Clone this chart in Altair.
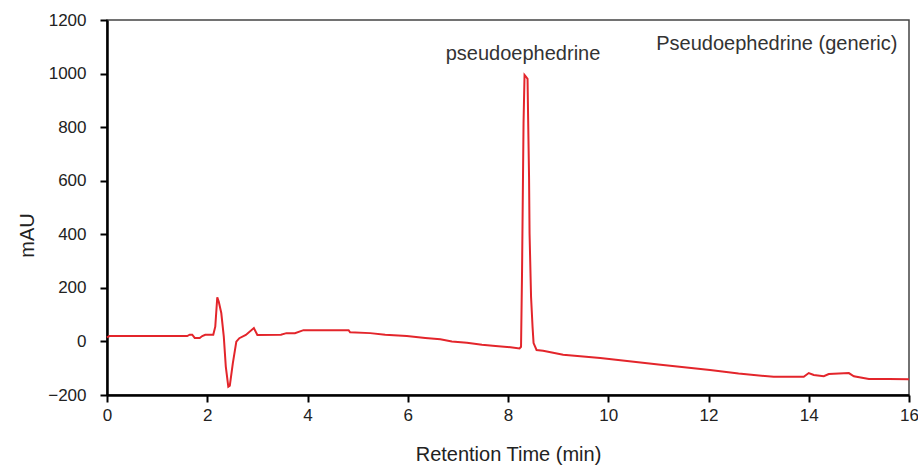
import altair as alt
import pandas as pd

# Retention time (min) and absorbance (mAU)
time_min = [0.0, 0.05, 1.6, 1.65, 1.7, 1.75, 1.85, 1.9, 1.96, 2.12, 2.16, 2.2, 2.23, 2.28,
            2.33, 2.37, 2.42, 2.45, 2.51, 2.58, 2.64, 2.77, 2.93, 3.0, 3.47, 3.58, 3.75,
            3.92, 4.82, 4.85, 5.25, 5.55, 5.98, 6.35, 6.65, 6.88, 7.18, 7.48, 7.75, 8.05,
            8.23, 8.26, 8.28, 8.31, 8.33, 8.36, 8.39, 8.40, 8.42, 8.43, 8.46, 8.49, 8.51,
            8.57, 8.7, 9.1, 9.84, 11.0, 12.03, 12.6, 13.3, 13.9, 14.0, 14.1, 14.3, 14.4,
            14.8, 14.9, 15.2, 15.6, 16.0]
mau = [15, 20, 20, 25, 25, 13, 13, 20, 25, 25, 55, 165, 148, 106,
       18, -94, -169, -165, -82, -1, 12, 24, 50, 24, 25, 31, 31,
       42, 42, 34, 31, 25, 20, 13, 8, 0, -5, -12, -17, -22,
       -26, -20, 255, 815, 995, 988, 980, 852, 613, 404, 166, 54, -6,
       -32, -35, -50, -62, -86, -107, -120, -132, -132, -118, -125, -130, -122,
       -118, -130, -140, -140, -141]

ann_text = ["pseudoephedrine", "Pseudoephedrine (generic)"]
ann_x = [8.3, 15.77]
ann_y = [1050, 1087]
ann_align = ["center", "right"]

x_ticks = [0, 2, 4, 6, 8, 10, 12, 14, 16]
y_ticks = [-200, 0, 200, 400, 600, 800, 1000, 1200]

FONT = "Liberation Sans"

df = pd.DataFrame({"t": time_min, "v": mau})
ann = pd.DataFrame({"label": ann_text, "t": ann_x, "v": ann_y, "align": ann_align})

x = alt.X("t:Q", scale=alt.Scale(domain=[0, 16], nice=False),
          axis=alt.Axis(values=x_ticks, format="d", title="Retention Time (min)",
                        titleY=65, titleBaseline="alphabetic", labelFlush=False))
y = alt.Y("v:Q", scale=alt.Scale(domain=[-200, 1200], nice=False),
          axis=alt.Axis(values=y_ticks, format="d", title="mAU",
                        titleX=-74, titleY=215, titleBaseline="alphabetic",
                        titleAlign="center", labelFlush=False))

line = alt.Chart(df).mark_line(color="#e3252b", strokeWidth=2).encode(x=x, y=y)

txt1 = alt.Chart(ann[ann["align"] == "center"]).mark_text(
    align="center", baseline="alphabetic", font=FONT, fontSize=20, color="#333333"
).encode(x="t:Q", y="v:Q", text="label:N")
txt2 = alt.Chart(ann[ann["align"] == "right"]).mark_text(
    align="right", baseline="alphabetic", font=FONT, fontSize=20, color="#333333"
).encode(x="t:Q", y="v:Q", text="label:N")

chart = alt.layer(line, txt1, txt2).properties(
    width=802, height=375,
    autosize=alt.AutoSizeParams(type="none"),
    padding={"left": 107, "top": 20, "right": 9, "bottom": 70},
    background="white",
).configure_view(
    stroke="#444444", strokeWidth=1.5
).configure_axis(
    grid=False, domainColor="black", domainWidth=2.5, tickColor="black",
    tickWidth=2, tickSize=7, labelFont=FONT, labelFontSize=17, labelColor="#222222",
    titleFont=FONT, titleFontSize=20, titleFontWeight="normal", titleColor="#222222",
    labelPadding=5,
).configure_axisY(labelPadding=14)

chart.save("out.html", embed_options={"renderer": "svg", "actions": False})
